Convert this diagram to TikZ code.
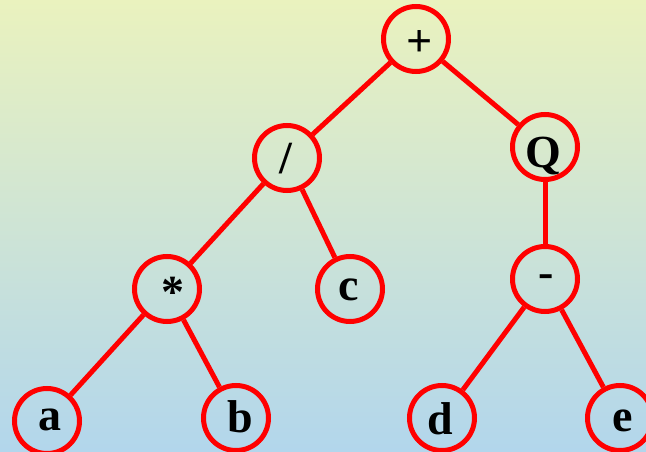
\documentclass[tikz,border=0pt]{standalone}
\usepackage{fontspec}
\setmainfont{Liberation Serif}
\definecolor{bgtop}{RGB}{234,242,190}
\definecolor{bgbot}{RGB}{178,214,236}
\definecolor{edgered}{RGB}{255,0,0}
\begin{document}
\begin{tikzpicture}[x=1pt,y=-1pt,
  vert/.style={circle,draw=edgered,line width=5pt,minimum size=65pt,inner sep=0pt},
  lbl/.style={inner sep=0pt,font=\fontsize{46}{46}\selectfont\bfseries},
  link/.style={draw=edgered,line width=5pt}]
\shade[top color=bgtop,bottom color=bgbot] (0,0) rectangle (646,452);
\useasboundingbox (0,0) rectangle (646,452);
% vertices
\node[vert] (plus) at (416,39) {};
\node[vert] (div) at (287,158) {};
\node[vert] (q) at (545,147) {};
\node[vert] (mul) at (167,289) {};
\node[vert] (c) at (350,289) {};
\node[vert] (minus) at (545,279) {};
\node[vert] (a) at (47,421) {};
\node[vert] (b) at (236,418) {};
\node[vert] (d) at (442,418) {};
\node[vert] (e) at (620,418) {};
% labels
\node[lbl] (tplus) at (420,44) {+};
\node[lbl] (tdiv) at (286,159) {/};
\node[lbl] (tq) at (543,156) {Q};
\node[lbl] (tmul) at (173,292) {*};
\node[lbl] (tc) at (349,290) {c};
\node[lbl] (tminus) at (546,281) {-};
\node[lbl] (ta) at (50,420) {a};
\node[lbl] (tb) at (240,417) {b};
\node[lbl] (td) at (440,419) {d};
\node[lbl] (te) at (623,421) {e};
% edges
\draw[link] (plus) -- (div);
\draw[link] (plus) -- (q);
\draw[link] (div) -- (mul);
\draw[link] (div) -- (c);
\draw[link] (q) -- (minus);
\draw[link] (mul) -- (a);
\draw[link] (mul) -- (b);
\draw[link] (minus) -- (d);
\draw[link] (minus) -- (e);
\end{tikzpicture}
\end{document}
